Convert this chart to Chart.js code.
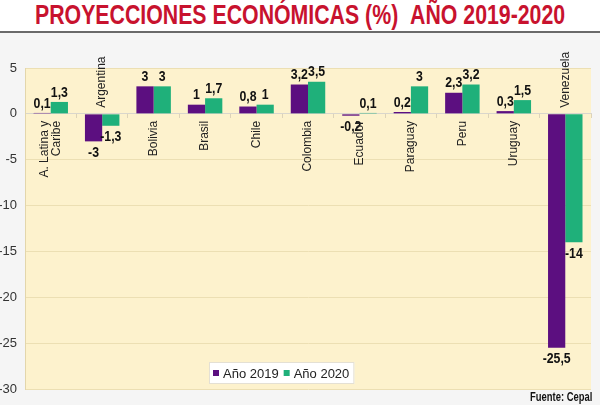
<!DOCTYPE html>
<html lang="es">
<head>
<meta charset="utf-8">
<title>Proyecciones económicas 2019-2020</title>
<script src="https://cdn.jsdelivr.net/npm/chart.js@4.4.1/dist/chart.umd.min.js"></script>
<style>
  html, body { margin: 0; padding: 0; }
  body { width: 600px; height: 405px; background: #f5f5f5; position: relative; overflow: hidden; font-family: 'Liberation Sans', Arial, sans-serif; }
  #titulo { height: 31px; background: #fff; border-bottom: 2px solid #6a6a6a; position: relative; }
  #titulo span { position: absolute; left: 35px; top: 1px; white-space: nowrap; color: #c8122e; font-weight: bold; font-size: 27px; line-height: 28px; transform-origin: 0 0; }
  #grafico { position: absolute; left: 0; top: 33px; }
  #fuente { position: absolute; right: 8px; bottom: 1px; white-space: nowrap; font-weight: bold; font-size: 12px; color: #111; transform-origin: 100% 100%; }
</style>
</head>
<body>
<div id="titulo"><span id="titulo-texto">PROYECCIONES ECONÓMICAS (%)&nbsp;&nbsp;AÑO 2019-2020</span></div>
<canvas id="grafico" width="600" height="372"></canvas>
<div id="fuente">Fuente: Cepal</div>
<script>
// datos
const categorias = [["A. Latina y", "Caribe"], "Argentina", "Bolivia", "Brasil", "Chile", "Colombia", "Ecuador", "Paraguay", "Peru", "Uruguay", "Venezuela"];
const valores2019 = [0.1, -3, 3, 1, 0.8, 3.2, -0.2, 0.2, 2.3, 0.3, -25.5];
const valores2020 = [1.3, -1.3, 3, 1.7, 1, 3.5, 0.1, 3, 3.2, 1.5, -14];
const ticksY = [5, 0, -5, -10, -15, -20, -25, -30];

// hay fuente estrecha instalada?
function hayFuente(nombre) {
  const c = document.createElement("canvas").getContext("2d");
  c.font = "bold 20px monospace";
  const a = c.measureText("abcdefghijABC").width;
  c.font = `bold 20px '${nombre}', monospace`;
  return c.measureText("abcdefghijABC").width !== a;
}
const narrow = hayFuente("Liberation Sans Narrow");
const fuenteEstrecha = narrow ? "'Liberation Sans Narrow'" : "'Liberation Sans'";
const escalaX = narrow ? 1 : 0.82;

// titulo ajustado al ancho
const tit = document.getElementById("titulo-texto");
tit.style.fontFamily = fuenteEstrecha + ", Arial, sans-serif";
tit.style.transform = `scaleX(${530 / tit.offsetWidth})`;
const fte = document.getElementById("fuente");
fte.style.fontFamily = fuenteEstrecha + ", Arial, sans-serif";
fte.style.transform = `scaleX(${62 / fte.offsetWidth})`;

const fmt = v => String(v).replace(".", ",");

const fondo = {
  id: "fondo",
  beforeDraw(chart) {
    const { ctx, chartArea: a } = chart;
    ctx.save();
    ctx.fillStyle = "#fdf2cd";
    ctx.fillRect(a.left, a.top, a.right - a.left, a.bottom - a.top);
    ctx.restore();
  }
};

const etiquetas = {
  id: "etiquetas",
  afterDatasetsDraw(chart) {
    const ctx = chart.ctx;
    const x = chart.scales.x, y = chart.scales.y;
    const y0 = y.getPixelForValue(0);
    ctx.save();
    // valores sobre las barras
    ctx.font = `bold 15px ${fuenteEstrecha}`;
    ctx.fillStyle = "#111";
    ctx.textAlign = "center";
    chart.data.datasets.forEach((ds, di) => {
      chart.getDatasetMeta(di).data.forEach((bar, i) => {
        const v = ds.data[i];
        ctx.save();
        if (v >= 0) {
          ctx.textBaseline = "bottom";
          ctx.translate(bar.x, bar.y - 2);
        } else {
          ctx.textBaseline = "top";
          ctx.translate(bar.x, bar.y + 4);
        }
        ctx.scale(escalaX, 1);
        ctx.fillText(fmt(v), 0, 0);
        ctx.restore();
      });
    });
    // nombres de paises, verticales
    ctx.font = "12px 'Liberation Sans', Arial, sans-serif";
    ctx.fillStyle = "#222";
    ctx.textBaseline = "middle";
    categorias.forEach((cat, i) => {
      const lineas = Array.isArray(cat) ? cat : [cat];
      const arriba = valores2019[i] < 0 && valores2020[i] < 0;
      const px = x.getPixelForValue(i);
      ctx.save();
      ctx.translate(px, arriba ? y0 - 6 : y0 + 7);
      ctx.rotate(-Math.PI / 2);
      ctx.textAlign = arriba ? "left" : "right";
      lineas.forEach((t, k) => {
        ctx.fillText(t, 0, (k - (lineas.length - 1) / 2) * 12);
      });
      ctx.restore();
    });
    ctx.restore();
  }
};

const leyenda = {
  id: "leyenda",
  afterDraw(chart) {
    const ctx = chart.ctx;
    const izq = 209, arr = 329, alto = 22;
    ctx.save();
    ctx.font = "13px 'Liberation Sans', Arial, sans-serif";
    const items = chart.data.datasets.map(ds => ({ t: ds.label, c: ds.backgroundColor, w: ctx.measureText(ds.label).width }));
    let ancho = 4;
    items.forEach(it => { ancho += 6 + 4 + it.w + 5; });
    ctx.fillStyle = "#fff";
    ctx.fillRect(izq, arr, ancho, alto);
    ctx.strokeStyle = "#e4e0d4";
    ctx.lineWidth = 1;
    ctx.strokeRect(izq + 0.5, arr + 0.5, ancho - 1, alto - 1);
    let cx = izq + 4;
    const cy = arr + alto / 2;
    ctx.textBaseline = "middle";
    ctx.textAlign = "left";
    items.forEach(it => {
      ctx.fillStyle = it.c;
      ctx.fillRect(cx, cy - 3, 6, 6);
      cx += 10;
      ctx.fillStyle = "#222";
      ctx.fillText(it.t, cx, cy + 1);
      cx += it.w + 5;
    });
    ctx.restore();
  }
};

new Chart(document.getElementById("grafico"), {
  type: "bar",
  data: {
    labels: categorias,
    datasets: [
      { label: "Año 2019", data: valores2019, backgroundColor: "#5c0f80" },
      { label: "Año 2020", data: valores2020, backgroundColor: "#1fb07a" }
    ]
  },
  options: {
    responsive: false,
    animation: false,
    layout: { padding: { top: 35, right: 9, bottom: 16, left: 0 } },
    datasets: { bar: { categoryPercentage: 0.67, barPercentage: 1 } },
    plugins: { legend: { display: false }, tooltip: { enabled: false } },
    scales: {
      x: {
        position: { y: 0 },
        ticks: { display: false },
        grid: { drawOnChartArea: false, drawTicks: true, tickLength: 4, color: "#ddd3b8", offset: true },
        border: { color: "#d9d6cc" }
      },
      y: {
        min: ticksY[ticksY.length - 1],
        max: ticksY[0],
        afterBuildTicks(s) { s.ticks = ticksY.map(v => ({ value: v })); },
        ticks: { color: "#333", padding: 8, font: { size: 13, family: "'Liberation Sans', Arial, sans-serif" } },
        grid: { color: "#ecdfb3", drawTicks: false },
        border: { color: "#e3d6ab" },
        afterFit(s) { s.width = 25; }
      }
    }
  },
  plugins: [fondo, etiquetas, leyenda]
});
</script>
</body>
</html>
